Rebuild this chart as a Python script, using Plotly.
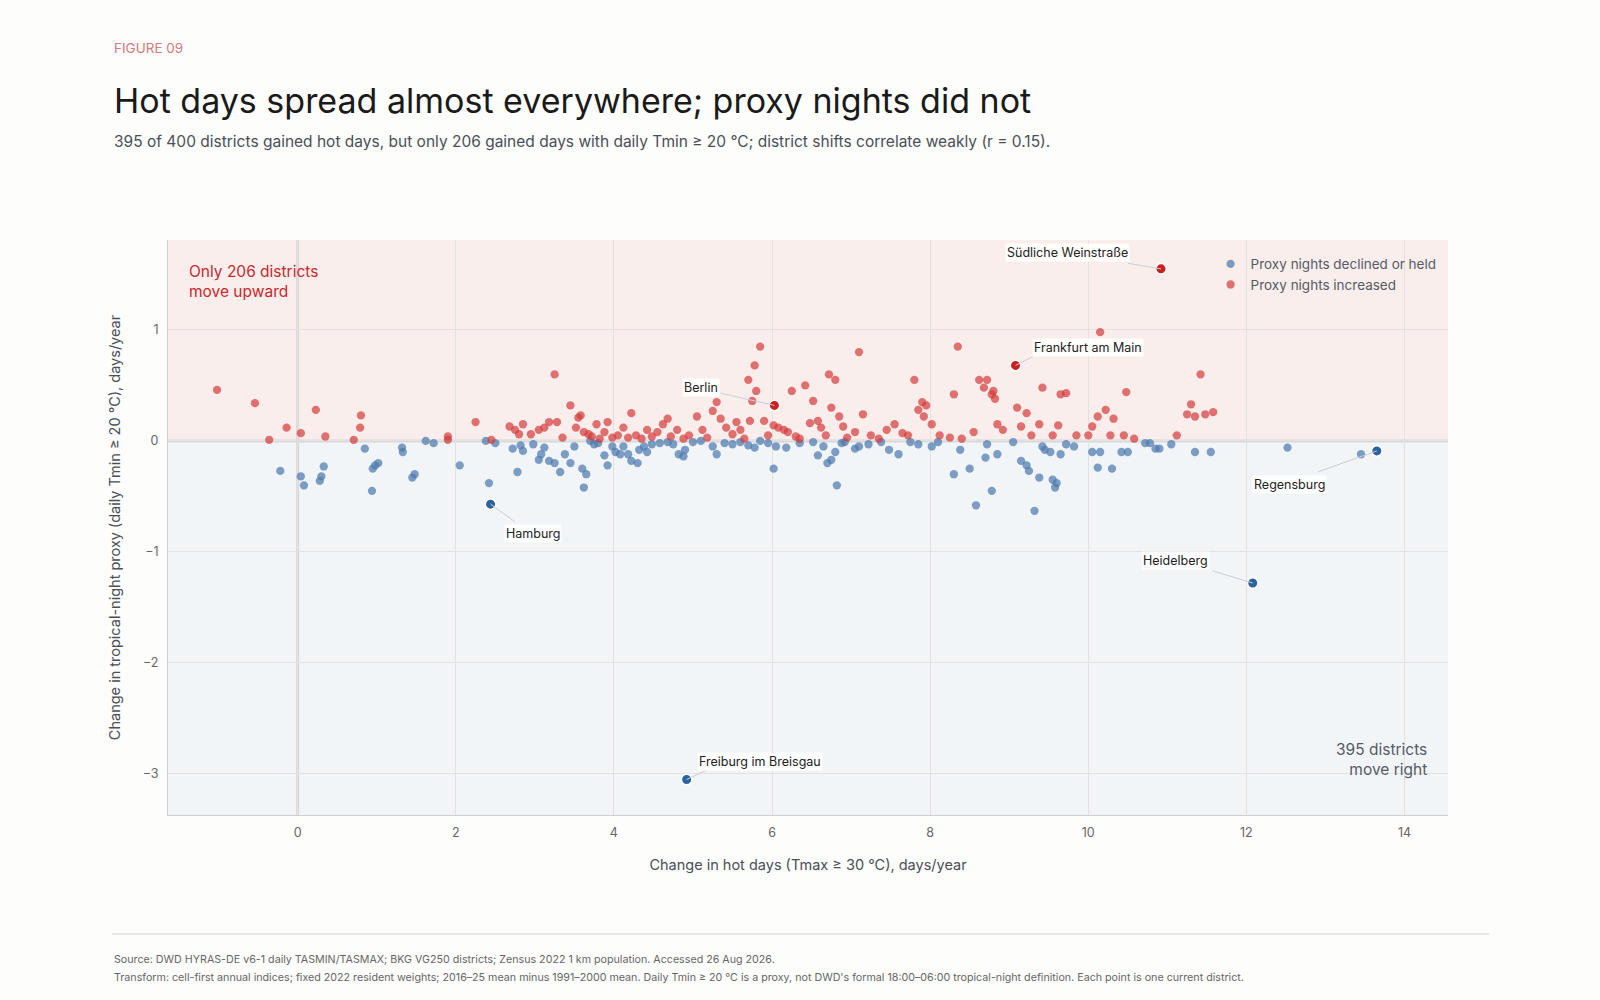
import plotly.graph_objects as go

red_pts = [(-1.02,.46),(-0.54,.34),(-0.36,.01),(-0.14,.12),(0.04,.07),(0.23,.28),(0.35,.04),(0.71,.01),(0.80,.23),(0.79,.12),(1.90,.04),(1.90,.01),(2.25,.17),(2.45,.01),(2.68,.13),(2.75,.10),(2.80,.06),(2.85,.15),(2.95,.06),(3.05,.10),(3.12,.12),(3.18,.17),(3.25,.60),(3.28,.17),(3.35,.03),(3.45,.32),(3.52,.12),(3.55,.21),(3.58,.23),(3.62,.08),(3.68,.06),(3.72,.04),(3.78,.15),(3.82,.02),(3.88,.08),(3.92,.17),(3.98,.03),(4.05,.05),(4.12,.12),(4.18,.03),(4.22,.25),(4.28,.05),(4.35,.02),(4.42,.10),(4.48,.04),(4.55,.08),(4.62,.15),(4.68,.20),(4.72,.04),(4.80,.10),(4.88,.02),(4.95,.05),(5.05,.22),(5.12,.10),(5.18,.03),(5.25,.27),(5.30,.35),(5.35,.20),(5.42,.12),(5.50,.06),(5.55,.17),(5.60,.10),(5.65,.02),(5.70,.55),(5.72,.18),(5.75,.36),(5.80,.45),(5.78,.68),(5.85,.85),(5.90,.18),(5.95,.05),(6.02,.14),(6.08,.12),(6.15,.10),(6.20,.08),(6.25,.45),(6.30,.04),(6.35,.02),(6.42,.50),(6.48,.16),(6.52,.36),(6.58,.18),(6.62,.12),(6.68,.05),(6.72,.60),(6.75,.30),(6.80,.55),(6.85,.22),(6.90,.13),(6.95,.03),(7.05,.08),(7.10,.80),(7.15,.24),(7.25,.05),(7.35,.02),(7.45,.10),(7.55,.15),(7.65,.07),(7.72,.05),(7.80,.55),(7.85,.28),(7.90,.35),(7.92,.22),(7.95,.32),(8.02,.15),(8.12,.05),(8.25,.03),(8.30,.42),(8.35,.85),(8.40,.02),(8.55,.08),(8.62,.55),(8.68,.48),(8.72,.55),(8.78,.42),(8.80,.45),(8.82,.38),(8.85,.15),(8.92,.10),(9.10,.30),(9.15,.13),(9.22,.25),(9.28,.05),(9.38,.15),(9.42,.48),(9.55,.05),(9.62,.14),(9.65,.42),(9.72,.43),(9.85,.05),(10.00,.05),(10.05,.13),(10.12,.22),(10.15,.98),(10.22,.28),(10.28,.05),(10.32,.20),(10.45,.05),(10.48,.44),(10.58,.02),(11.12,.05),(11.25,.24),(11.30,.33),(11.35,.22),(11.42,.60),(11.48,.24),(11.58,.26)]
blue_pts = [(-0.22,-.27),(0.04,-.32),(0.08,-.40),(0.28,-.36),(0.30,-.32),(0.33,-.23),(0.85,-.07),(0.95,-.25),(0.94,-.45),(1.02,-.20),(0.98,-.22),(1.32,-.06),(1.33,-.10),(1.45,-.33),(1.48,-.30),(1.62,0),(1.72,-.02),(2.05,-.22),(2.38,0),(2.42,-.38),(2.50,-.02),(2.72,-.07),(2.78,-.28),(2.82,-.04),(2.85,-.09),(2.98,-.03),(3.05,-.17),(3.08,-.12),(3.12,-.06),(3.18,-.18),(3.25,-.20),(3.32,-.28),(3.38,-.12),(3.45,-.20),(3.50,-.05),(3.60,-.25),(3.62,-.42),(3.65,-.30),(3.70,0),(3.75,-.03),(3.80,-.02),(3.88,-.13),(3.92,-.22),(3.98,-.05),(4.02,-.10),(4.08,-.12),(4.12,-.05),(4.18,-.12),(4.22,-.18),(4.30,-.20),(4.32,-.08),(4.38,-.05),(4.42,-.10),(4.48,-.03),(4.58,-.02),(4.68,-.01),(4.75,-.03),(4.82,-.12),(4.88,-.14),(4.90,-.08),(5.00,-.01),(5.10,0),(5.25,-.05),(5.30,-.12),(5.40,-.02),(5.50,-.03),(5.60,-.01),(5.70,-.04),(5.78,-.06),(5.85,0),(5.95,-.02),(6.02,-.25),(6.05,-.05),(6.18,-.06),(6.35,-.02),(6.52,-.01),(6.58,-.13),(6.65,-.05),(6.70,-.20),(6.75,-.17),(6.80,-.10),(6.82,-.40),(6.88,-.02),(6.92,-.01),(7.05,-.07),(7.10,-.05),(7.22,-.03),(7.38,-.01),(7.48,-.08),(7.60,-.12),(7.75,-.01),(7.85,-.03),(8.02,-.05),(8.10,-.01),(8.30,-.30),(8.38,-.08),(8.50,-.25),(8.58,-.58),(8.70,-.15),(8.72,-.03),(8.78,-.45),(8.85,-.12),(9.05,-.01),(9.15,-.18),(9.22,-.22),(9.25,-.27),(9.32,-.63),(9.38,-.33),(9.42,-.05),(9.45,-.08),(9.52,-.10),(9.55,-.35),(9.58,-.42),(9.60,-.38),(9.65,-.12),(9.72,-.03),(9.82,-.05),(10.05,-.10),(10.12,-.24),(10.15,-.10),(10.30,-.25),(10.42,-.10),(10.50,-.10),(10.72,-.02),(10.78,-.02),(10.85,-.07),(10.90,-.07),(11.05,-.03),(11.35,-.10),(11.55,-.10),(12.52,-.06),(13.45,-.12)]

hl_names = ["Hamburg","Berlin","Frankfurt am Main","Südliche Weinstraße","Regensburg","Heidelberg","Freiburg im Breisgau"]
hl_x = [2.44, 6.03, 9.08, 10.92, 13.65, 12.08, 4.92]
hl_y = [-0.57, 0.32, 0.68, 1.55, -0.09, -1.28, -3.05]
lbl_x = [2.98, 5.1, 10.0, 9.74, 12.55, 11.1, 5.85]
lbl_y = [-0.83, 0.48, 0.84, 1.70, -0.39, -1.08, -2.89]
conn_x = [2.75, 5.35, 9.3, 10.5, 12.9, 11.57, 5.19]
conn_y = [-0.73, 0.43, 0.76, 1.6, -0.28, -1.17, -2.96]

RED = "#d43a3a"; BLUE = "#4a78ad"
FONT = "Inter"
fig = go.Figure()
XR = [-1.64, 14.55]; YR = [-3.37, 1.81]
fig.add_shape(type="rect", x0=XR[0], x1=XR[1], y0=0, y1=YR[1], fillcolor="#f9eeec", line_width=0, layer="below")
fig.add_shape(type="rect", x0=XR[0], x1=XR[1], y0=YR[0], y1=0, fillcolor="#f2f5f7", line_width=0, layer="below")
fig.add_shape(type="line", x0=XR[0], x1=XR[1], y0=0, y1=0, line=dict(color="#d8d8d8", width=3), layer="below")
fig.add_shape(type="line", x0=0, x1=0, y0=YR[0], y1=YR[1], line=dict(color="#d8d8d8", width=3), layer="below")

fig.add_trace(go.Scatter(x=[p[0] for p in blue_pts], y=[p[1] for p in blue_pts], mode="markers",
    name="Proxy nights declined or held", marker=dict(color=BLUE, size=8.3, opacity=0.7)))
fig.add_trace(go.Scatter(x=[p[0] for p in red_pts], y=[p[1] for p in red_pts], mode="markers",
    name="Proxy nights increased", marker=dict(color=RED, size=8.3, opacity=0.7)))

for x, y, cx, cy in zip(hl_x, hl_y, conn_x, conn_y):
    fig.add_shape(type="line", x0=x, y0=y, x1=cx, y1=cy, line=dict(color="#c9ced6", width=1))
hc = [("#2c62a0" if y <= 0 else "#cc1f1f") for y in hl_y]
fig.add_trace(go.Scatter(x=hl_x, y=hl_y, mode="markers", showlegend=False,
    marker=dict(color=hc, size=10.5, line=dict(color="white", width=1.5))))
for n, lx, ly in zip(hl_names, lbl_x, lbl_y):
    fig.add_annotation(x=lx, y=ly, text=n, showarrow=False, bgcolor="rgba(255,255,255,0.9)",
        font=dict(family=FONT, size=12.5, color="#222"))

fig.add_annotation(xref="paper", yref="paper", x=0.015, y=0.965, xanchor="left", yanchor="top", align="left",
    text="Only 206 districts<br>move upward", showarrow=False, font=dict(family=FONT, size=15.5, color="#c9282d"))
fig.add_annotation(xref="paper", yref="paper", x=0.985, y=0.06, xanchor="right", yanchor="bottom", align="right",
    text="395 districts<br>move right", showarrow=False, font=dict(family=FONT, size=15.5, color="#555b66"))

LX = -0.0437
fig.add_annotation(xref="paper", yref="paper", x=LX, y=1.334, xanchor="left", yanchor="middle",
    text="FIGURE 09", showarrow=False, font=dict(family=FONT, size=13.5, color="#d47a7a"))
fig.add_annotation(xref="paper", yref="paper", x=LX, y=1.243, xanchor="left", yanchor="middle",
    text="Hot days spread almost everywhere; proxy nights did not", showarrow=False, font=dict(family=FONT, size=34, color="#1a1a1a"))
fig.add_annotation(xref="paper", yref="paper", x=LX, y=1.172, xanchor="left", yanchor="middle",
    text="395 of 400 districts gained hot days, but only 206 gained days with daily Tmin ≥ 20 °C; district shifts correlate weakly (r = 0.15).",
    showarrow=False, font=dict(family=FONT, size=15.5, color="#4a4f58"))
fig.add_shape(type="line", xref="paper", yref="paper", x0=LX, x1=1.032, y0=-0.207, y1=-0.207, line=dict(color="#d0d0d0", width=1))
fig.add_annotation(xref="paper", yref="paper", x=LX, y=-0.252, xanchor="left", yanchor="middle", showarrow=False,
    text="Source: DWD HYRAS-DE v6-1 daily TASMIN/TASMAX; BKG VG250 districts; Zensus 2022 1 km population. Accessed 26 Aug 2026.",
    font=dict(family=FONT, size=10.7, color="#666"))
fig.add_annotation(xref="paper", yref="paper", x=LX, y=-0.283, xanchor="left", yanchor="middle", showarrow=False,
    text="Transform: cell-first annual indices; fixed 2022 resident weights; 2016–25 mean minus 1991–2000 mean. Daily Tmin ≥ 20 °C is a proxy, not DWD's formal 18:00–06:00 tropical-night definition. Each point is one current district.",
    font=dict(family=FONT, size=10.7, color="#666"))

fig.update_layout(width=1600, height=1000, margin=dict(l=168, r=152, t=240, b=185),
    paper_bgcolor="#fdfdfc", plot_bgcolor="#f2f5f7", font=dict(family=FONT, color="#555b66"),
    legend=dict(x=0.995, y=0.985, xanchor="right", yanchor="top", bgcolor="rgba(0,0,0,0)", font=dict(size=13.5, color="#555b66")),
    xaxis=dict(range=XR, tickvals=[0,2,4,6,8,10,12,14], gridcolor="#e4e2e0", zeroline=False, showline=True, linecolor="#cfcfcf",
        ticks="outside", ticklen=6, tickcolor="rgba(0,0,0,0)", tickfont=dict(size=12.5, color="#666"),
        title=dict(text="Change in hot days (Tmax ≥ 30 °C), days/year", font=dict(size=14.5, color="#4a4f58"), standoff=20)),
    yaxis=dict(range=YR, tickvals=[-3,-2,-1,0,1], ticktext=["−3","−2","−1","0","1"], gridcolor="#e4e2e0", zeroline=False,
        showline=True, linecolor="#cfcfcf", ticks="outside", ticklen=6, tickcolor="rgba(0,0,0,0)", tickfont=dict(size=12.5, color="#666"),
        title=dict(text="Change in tropical-night proxy (daily Tmin ≥ 20 °C), days/year", font=dict(size=14.5, color="#4a4f58"), standoff=18)))
fig.write_html("out.html", config={"displayModeBar": False},
    post_script="document.body.style.margin='0';document.body.style.background='#fdfdfc';")
